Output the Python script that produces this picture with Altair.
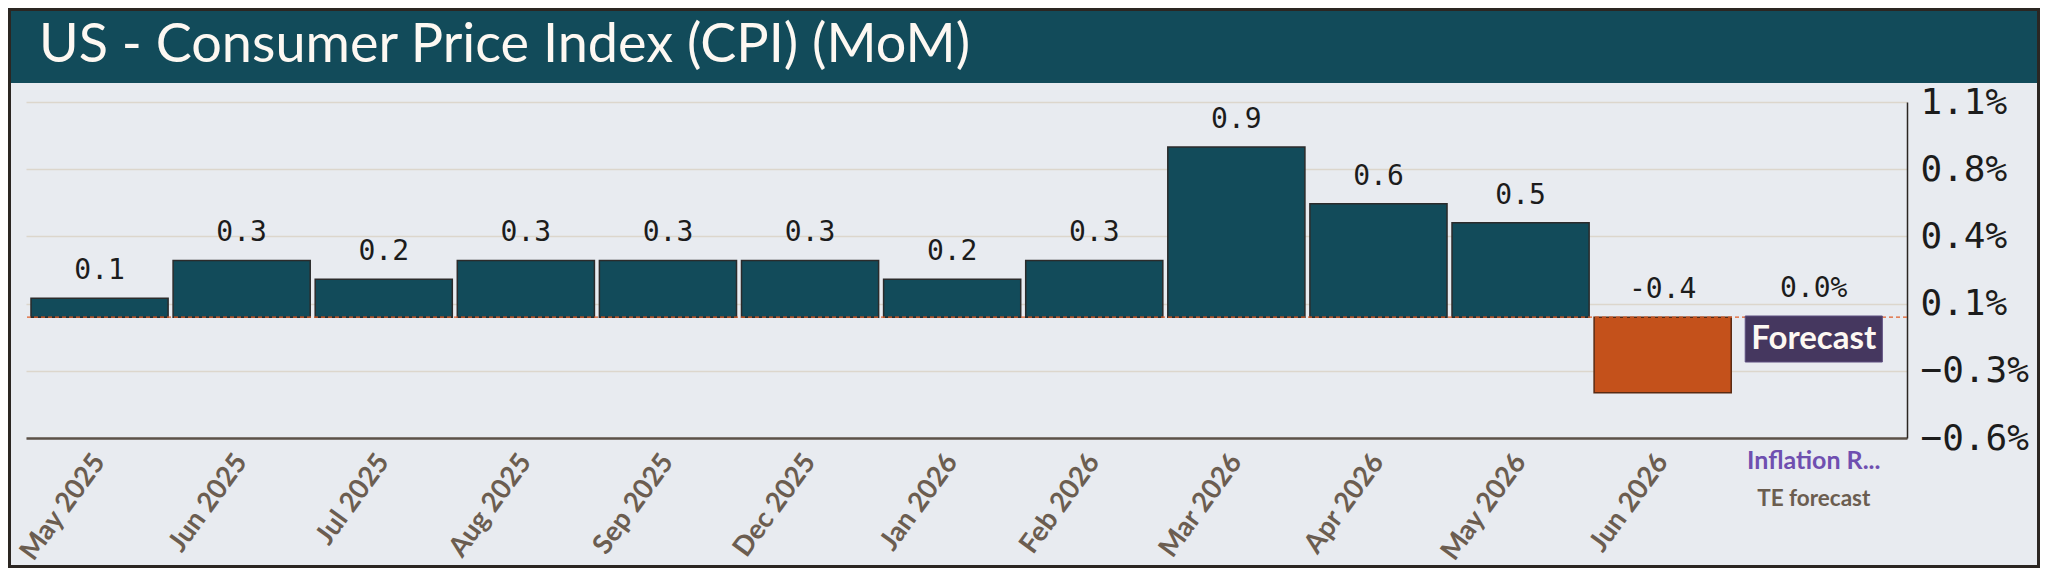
import altair as alt
import pandas as pd

# ---- data ----
categories = ["May 2025", "Jun 2025", "Jul 2025", "Aug 2025", "Sep 2025", "Dec 2025",
              "Jan 2026", "Feb 2026", "Mar 2026", "Apr 2026", "May 2026", "Jun 2026",
              "Inflation R..."]
values = [0.1, 0.3, 0.2, 0.3, 0.3, 0.3, 0.2, 0.3, 0.9, 0.6, 0.5, -0.4, 0.0]
value_labels = ["0.1", "0.3", "0.2", "0.3", "0.3", "0.3", "0.2", "0.3", "0.9", "0.6",
                "0.5", "-0.4", "0.0%"]
kinds = ["actual"] * 11 + ["latest", "forecast"]
y_ticks = [-0.639, -0.284, 0.071, 0.427, 0.782, 1.138]
title_text = "US - Consumer Price Index (CPI) (MoM)"
badge_text = "Forecast"
forecast_name = "Inflation R..."
forecast_source = "TE forecast"

TEAL = "#124b5a"
ORANGE = "#c4511b"
PURPLE = "#45375f"
BG = "#e8ebf0"
LABEL_BROWN = "#6b5d50"

df = pd.DataFrame({"cat": categories, "value": values, "label": value_labels, "kind": kinds})
one = pd.DataFrame({"title": [title_text], "badge": [badge_text],
                    "fname": [forecast_name], "fsrc": [forecast_source],
                    "cat": [forecast_name]})

W, H = 1881, 336

xenc = alt.X(
    "cat:N", sort=categories,
    scale=alt.Scale(domain=categories, paddingInner=0.035, paddingOuter=0.136, align=0.129),
    axis=alt.Axis(
        title=None, orient="bottom", labelAngle=306, labelAlign="right", labelBaseline="middle",
        labelPadding=19, ticks=False, grid=False, domainColor="#5b5148", domainWidth=2.5,
        labelFont="Lato", labelFontSize=27.5, labelFontWeight="bold", labelColor=LABEL_BROWN,
        labelOverlap=False,
        labelExpr="datum.label == 'Inflation R...' ? '' : datum.label",
    ),
)

yscale = alt.Scale(domain=[y_ticks[0], y_ticks[-1]], nice=False, zero=False)
yaxis = alt.Axis(
    title=None, orient="right", values=y_ticks, ticks=False, labelPadding=13,
    labelFont="DejaVu Sans Mono", labelFontSize=36, labelColor="#1c1c1c",
    labelAlign="left", labelBaseline="middle", labelOverlap=False, labelFlush=False,
    labelExpr="format(datum.value, '.1f') + '%'",
    grid=True, gridColor="#dcd6cc", gridWidth=1.5, domain=True, domainColor="#2b2622",
    domainWidth=1.5,
)

base = alt.Chart(df)

banner = alt.Chart(one).mark_rect(color=TEAL).encode(
    x=alt.value(-20), x2=alt.value(2016), y=alt.value(-96), y2=alt.value(-19)
)
title = alt.Chart(one).mark_text(
    align="left", baseline="alphabetic", font="Lato", fontSize=54, color="#fdf8f2"
).encode(x=alt.value(13), y=alt.value(-40), text="title:N")

bars = base.transform_filter("datum.kind != 'forecast'").mark_bar(strokeWidth=1.5).encode(
    x=xenc,
    y=alt.Y("value:Q", scale=yscale, axis=yaxis),
    color=alt.Color("kind:N", scale=alt.Scale(domain=["actual", "latest"], range=[TEAL, ORANGE]), legend=None),
    stroke=alt.Stroke("kind:N", scale=alt.Scale(domain=["actual", "latest"], range=["#2b2b2b", "#5a2a12"]), legend=None),
)

zero = alt.Chart(one).mark_rule(color="#e0602a", strokeDash=[4, 3], strokeWidth=1.2).encode(
    y=alt.datum(0, scale=yscale, axis=yaxis)
)

labels = base.transform_filter("datum.kind != 'forecast'").transform_calculate(
    ly="max(datum.value, 0)"
).mark_text(dy=-19, baseline="alphabetic", font="DejaVu Sans Mono", fontSize=28,
            fontWeight=500, color="#1c1c1c").encode(
    x=xenc, y=alt.Y("ly:Q", scale=yscale, axis=yaxis), text="label:N"
)

f_label = base.transform_filter("datum.kind == 'forecast'").mark_text(
    dx=9, dy=-20, baseline="alphabetic", font="DejaVu Sans Mono", fontSize=28, color="#1c1c1c"
).encode(x=xenc, y=alt.Y("value:Q", scale=yscale, axis=yaxis), text="label:N")

badge = alt.Chart(one).mark_rect(color=PURPLE, xOffset=9, stroke="#5d4f80", strokeWidth=1).encode(
    x=xenc, y=alt.value(214), y2=alt.value(260)
)
badge_t = alt.Chart(one).mark_text(
    dx=9, baseline="alphabetic", font="Lato", fontSize=33, fontWeight="bold", color="#fdf8f2"
).encode(x=xenc, y=alt.value(247), text="badge:N")

fname = alt.Chart(one).mark_text(
    dx=9, baseline="alphabetic", font="Lato", fontSize=25, fontWeight="bold", color="#6f4fb0"
).encode(x=xenc, y=alt.value(367), text="fname:N")
fsrc = alt.Chart(one).mark_text(
    dx=9, baseline="alphabetic", font="Lato", fontSize=22.5, fontWeight="bold", color=LABEL_BROWN
).encode(x=xenc, y=alt.value(404), text="fsrc:N")

frame = alt.Chart(one).mark_rect(fillOpacity=0, stroke="#2b2622", strokeWidth=3).encode(
    x=alt.value(-16.5), x2=alt.value(2012.5), y=alt.value(-92.5), y2=alt.value(464.5)
)

chart = alt.layer(
    banner, title, bars, zero, labels, f_label, badge, badge_t, fname, fsrc, frame
).properties(
    width=W, height=H,
    autosize=alt.AutoSizeParams(type="none"),
    padding={"left": 18, "top": 94, "right": 2032 - 18 - W, "bottom": 560 - 94 - H},
).configure(background=BG).configure_view(stroke="transparent")

chart.save("out.html", embed_options={"renderer": "svg", "actions": False})
